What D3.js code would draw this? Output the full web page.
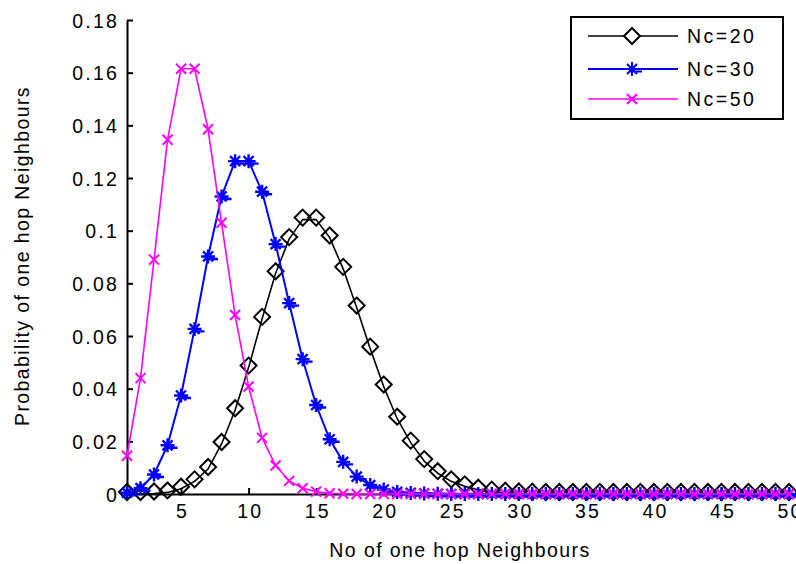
<!DOCTYPE html>
<html>
<head>
<meta charset="utf-8">
<script src="https://cdn.jsdelivr.net/npm/d3@7"></script>
<style>
  body { margin: 0; background: #fff; }
  svg text { font-family: "Liberation Sans", Arial, sans-serif; }
</style>
</head>
<body>
<svg id="chart"></svg>
<script>
// Values (x = 1..50)
const hops = d3.range(1, 51);

const nc20 = [0.0000, 0.0000, 0.0002, 0.0006, 0.0020, 0.0048, 0.0095, 0.0190, 0.0318, 0.0480,
              0.0665, 0.0838, 0.0968, 0.1042, 0.1042, 0.0974, 0.0855, 0.0708, 0.0552, 0.0408,
              0.0286, 0.0195, 0.0125, 0.0079, 0.0048, 0.0029, 0.0016, 0.0009, 0.0005, 0.0002,
              0.0001, 0, 0, 0, 0, 0, 0, 0, 0, 0,
              0, 0, 0, 0, 0, 0, 0, 0, 0, 0];

const nc30 = [0.0005, 0.0022, 0.0074, 0.0185, 0.0374, 0.0627, 0.0902, 0.1130, 0.1264, 0.1264,
              0.1148, 0.0949, 0.0725, 0.0512, 0.0338, 0.0208, 0.0122, 0.0066, 0.0034, 0.0017,
              0.0008, 0.0004, 0.0002, 0.0001, 0, 0, 0, 0, 0, 0,
              0, 0, 0, 0, 0, 0, 0, 0, 0, 0,
              0, 0, 0, 0, 0, 0, 0, 0, 0, 0];

const nc50 = [0.0145, 0.0440, 0.0890, 0.1345, 0.1615, 0.1615, 0.1385, 0.1030, 0.0680, 0.0408,
              0.0213, 0.0108, 0.0050, 0.0022, 0.0009, 0.0003, 0.0001, 0, 0, 0,
              0, 0, 0, 0, 0, 0, 0, 0, 0, 0,
              0, 0, 0, 0, 0, 0, 0, 0, 0, 0,
              0, 0, 0, 0, 0, 0, 0, 0, 0, 0];

const seriesNames = ["Nc=20", "Nc=30", "Nc=50"];
const xTicks = [5, 10, 15, 20, 25, 30, 35, 40, 45, 50];
const yTicks = [0, 0.02, 0.04, 0.06, 0.08, 0.1, 0.12, 0.14, 0.16, 0.18];
const yTickLabels = ["0", "0.02", "0.04", "0.06", "0.08", "0.1", "0.12", "0.14", "0.16", "0.18"];

const width = 796, height = 564;
const svg = d3.select("#chart").attr("width", width).attr("height", height);

const x = d3.scaleLinear().domain([1, 50]).range([127, 789]);
const y = d3.scaleLinear().domain([0, 0.18]).range([494, 20]);

// Marker shapes (path strings centred on 0,0)
const markers = {
    diamond: "M0,-8L8,0L0,8L-8,0Z",
    star: "M0,-7V7M-7,0H7M-5,-5L5,5M-5,5L5,-5M-2,2.5H10",
    cross: "M-5,-5L5,5M-5,5L5,-5"
};

const series = [
    { name: seriesNames[0], values: nc20, color: "#000000", marker: "diamond", lw: 1.6 },
    { name: seriesNames[1], values: nc30, color: "#0000ff", marker: "star", lw: 2 },
    { name: seriesNames[2], values: nc50, color: "#ff00ff", marker: "cross", lw: 1.6 }
];

// Axes
const yAxis = d3.axisLeft(y)
    .tickValues(yTicks)
    .tickFormat((d, i) => yTickLabels[i])
    .tickSizeInner(-6)
    .tickSizeOuter(0)
    .tickPadding(8);

const xAxis = d3.axisBottom(x)
    .tickValues(xTicks)
    .tickSizeInner(-6)
    .tickSizeOuter(0)
    .tickPadding(10);

const gy = svg.append("g").attr("transform", "translate(127,0)").call(yAxis);
const gx = svg.append("g").attr("transform", "translate(0,494)").call(xAxis);

[gx, gy].forEach(g => {
    g.select(".domain").attr("stroke", "#000").attr("stroke-width", 2);
    g.selectAll(".tick line").attr("stroke", "#000").attr("stroke-width", 2);
    g.selectAll(".tick text")
        .attr("fill", "#000")
        .attr("font-size", 19.5)
        .style("letter-spacing", "2.2px");
});
gy.selectAll(".tick text").attr("dy", "0.36em");
gx.selectAll(".tick text").attr("dy", "0.72em").attr("dx", "1.1px");

// Lines and markers
const line = d3.line()
    .x((d, i) => x(hops[i]))
    .y(d => y(d));

series.forEach(s => {
    svg.append("path")
        .datum(s.values)
        .attr("fill", "none")
        .attr("stroke", s.color)
        .attr("stroke-width", s.lw)
        .attr("stroke-linejoin", "round")
        .attr("d", line);

    svg.append("g")
        .selectAll("path")
        .data(s.values)
        .join("path")
        .attr("transform", (d, i) => `translate(${x(hops[i])},${y(d) - (s.marker === "diamond" ? 2 : 0)})`)
        .attr("d", markers[s.marker])
        .attr("fill", "none")
        .attr("stroke", s.color)
        .attr("stroke-width", s.marker === "star" ? 2.4 : 2);
});

// Axis titles
svg.append("text")
    .attr("x", 460)
    .attr("y", 557)
    .attr("text-anchor", "middle")
    .attr("font-size", 19.5)
    .style("letter-spacing", "1.4px")
    .text("No of one hop Neighbours");

svg.append("text")
    .attr("transform", "translate(29,256) rotate(-90)")
    .attr("text-anchor", "middle")
    .attr("font-size", 19.5)
    .style("letter-spacing", "1.4px")
    .text("Probability of one hop Neighbours");

// Legend
const legend = svg.append("g");
legend.append("rect")
    .attr("x", 571).attr("y", 17)
    .attr("width", 212).attr("height", 102)
    .attr("fill", "#fff")
    .attr("stroke", "#000")
    .attr("stroke-width", 2);

const rowY = [36, 69, 99];
series.forEach((s, i) => {
    legend.append("line")
        .attr("x1", 588).attr("x2", 678)
        .attr("y1", rowY[i]).attr("y2", rowY[i])
        .attr("stroke", s.color)
        .attr("stroke-width", s.lw);
    legend.append("path")
        .attr("transform", `translate(632,${rowY[i]})`)
        .attr("d", markers[s.marker])
        .attr("fill", s.marker === "diamond" ? "#fff" : "none")
        .attr("stroke", s.color)
        .attr("stroke-width", 2);
    legend.append("text")
        .attr("x", 687)
        .attr("y", rowY[i])
        .attr("dy", "0.36em")
        .attr("font-size", 19.5)
        .style("letter-spacing", "2.5px")
        .text(s.name);
});
</script>
</body>
</html>
